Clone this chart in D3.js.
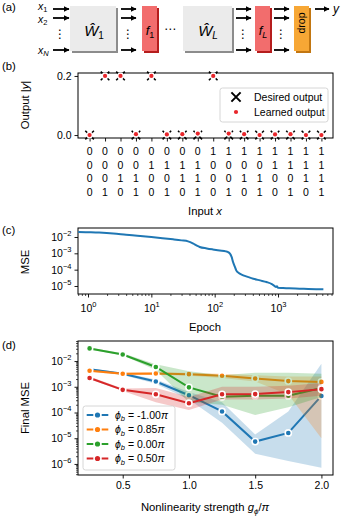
<!DOCTYPE html>
<html><head><meta charset="utf-8">
<script src="https://cdn.jsdelivr.net/npm/d3@7"></script>
<style>
body{margin:0;background:#fff}
svg{display:block}
text{font-family:"Liberation Sans",Arial,Helvetica,sans-serif;fill:#000}
</style>
</head><body>
<svg id="c" width="342" height="516"></svg>
<script>
// ---------------- DATA ----------------
// panel (b)
const bCategories = ["0000","0001","0010","0011","0100","0101","0110","0111","1000","1001","1010","1011","1100","1101","1110","1111"];
const bDesired = [0,0.2,0.2,0,0.2,0,0,0,0.2,0,0,0,0,0,0,0];
const bLearned = [0.000,0.200,0.200,0.003,0.200,0.002,0.003,0.005,0.200,0.005,0.003,0.000,0.002,0.003,0.000,0.000];
const bYTicks = [0.0, 0.2];
// panel (c)
const cEpoch = [0.7,1,1.5,2.5,4,6,10,15,22,30,38,46,52,58,75,93,120,150,165,174,185,195,207,219,240,282,340,407,520,660,800,880,933,960,1000,1200,1500,2190,3000,4000,5200];
const cMSE = [0.0204,0.0196,0.0186,0.0165,0.0138,0.0120,0.0100,0.0085,0.0072,0.0062,0.0054,0.0039,0.0030,0.00245,0.0020,0.00174,0.00150,0.00132,0.00115,0.00095,0.00060,0.000295,0.000160,9.1e-5,6.2e-5,4.5e-5,3.5e-5,2.8e-5,2.2e-5,1.74e-5,1.3e-5,1.0e-5,8.7e-6,9.5e-6,7.8e-6,7.6e-6,7.2e-6,6.9e-6,6.6e-6,6.4e-6,6.3e-6];
const cXTicks = [1,10,100,1000];
const cYTicks = [1e-2,1e-3,1e-4,1e-5];
// panel (d)
const dG = [0.25,0.5,0.75,1.0,1.25,1.5,1.75,2.0];
const dXTicks = [0.5,1.0,1.5,2.0];
const dYTicks = [1e-2,1e-3,1e-4,1e-5,1e-6];
const dLabels = ["-1.00","0.85","0.00","0.50"];
const dColors = ["#1f77b4","#ff7f0e","#2ca02c","#d62728"];
const dBlue   = [4.8e-3,3.2e-3,1.6e-3,4.7e-4,1.1e-4,7.4e-6,1.6e-5,4.4e-4];
const dBlueLo = [4.4e-3,2.9e-3,1.3e-3,3.2e-4,4.0e-5,2.5e-6,1.3e-6,7.1e-7];
const dBlueHi = [5.2e-3,3.5e-3,1.9e-3,6.3e-4,2.5e-4,1.4e-5,1.1e-4,7.9e-3];
const dOrange   = [4.2e-3,3.2e-3,3.3e-3,3.1e-3,2.7e-3,2.1e-3,1.66e-3,1.55e-3];
const dOrangeLo = [3.8e-3,2.9e-3,3.0e-3,2.7e-3,2.2e-3,1.6e-3,5.0e-4,1.0e-5];
const dOrangeHi = [4.6e-3,3.5e-3,3.7e-3,3.5e-3,3.2e-3,2.8e-3,2.5e-3,2.5e-3];
const dGreen   = [3.1e-2,1.8e-2,5.9e-3,9.5e-4,4.1e-4,4.5e-4,4.5e-4,8.9e-4];
const dGreenLo = [2.8e-2,1.7e-2,4.5e-3,2.5e-4,2.0e-4,8.0e-5,1.6e-4,4.0e-4];
const dGreenHi = [3.4e-2,2.0e-2,7.6e-3,4.0e-3,2.8e-3,3.5e-3,3.5e-3,3.2e-3];
const dRed   = [2.2e-3,7.6e-4,5.1e-4,2.3e-4,5.1e-4,5.2e-4,6.2e-4,8.1e-4];
const dRedLo = [2.0e-3,6.8e-4,2.5e-4,1.26e-4,3.2e-4,3.2e-4,3.5e-4,4.5e-4];
const dRedHi = [2.5e-3,8.5e-4,8.9e-4,4.0e-4,1.0e-3,1.0e-3,1.1e-3,1.4e-3];

// ---------------- SETUP ----------------
const svg = d3.select('#c');
svg.append('rect').attr('width',342).attr('height',516).attr('fill','#fff');
const L = 78, R = 333;
const TF = 10.5, LF = 11.3;

function panelLabel(t, y){
  svg.append('text').attr('x',2).attr('y',y).attr('font-size',LF).text(t);
}
function frame(top,bottom){
  svg.append('rect').attr('x',L).attr('y',top).attr('width',R-L).attr('height',bottom-top)
    .attr('fill','none').attr('stroke','#000').attr('stroke-width',1);
}
function styleAxis(g){
  g.select('.domain').remove();
  g.selectAll('line').attr('stroke','#000').attr('stroke-width',0.9);
  g.selectAll('text').attr('font-size',TF).attr('font-family','"Liberation Sans",Arial,sans-serif');
}
function pow10Label(sel){
  sel.each(function(d){
    const t = d3.select(this);
    const e = Math.round(Math.log10(d));
    t.text(null);
    t.append('tspan').text('10');
    t.append('tspan').attr('dy',-5).attr('font-size',7.5).text(e<0 ? '\u2212'+(-e) : String(e));
  });
}

// ---------------- PANEL (a) ----------------
panelLabel('(a)', 11);
const defs = svg.append('defs');
defs.append('marker').attr('id','ah').attr('viewBox','0 0 10 10').attr('refX',9).attr('refY',5)
  .attr('markerWidth',3.2).attr('markerHeight',3.2).attr('orient','auto').attr('markerUnits','strokeWidth')
  .append('path').attr('d','M0,0L10,5L0,10z').attr('fill','#000');

const arrowYs = [9,18,50];
function arrows(x0,x1,ys){
  ys.forEach(y=>{
    svg.append('line').attr('x1',x0).attr('x2',x1).attr('y1',y).attr('y2',y)
      .attr('stroke','#000').attr('stroke-width',1.8).attr('marker-end','url(#ah)');
  });
}
function vdots(x){
  svg.append('text').attr('x',x).attr('y',38).attr('text-anchor','middle')
    .attr('font-size',12).style('font-family','"DejaVu Sans",sans-serif').text('\u22EE');
}
function box(x,w,fill,shadow){
  svg.append('rect').attr('x',x+2).attr('y',8).attr('width',w).attr('height',45).attr('fill',shadow);
  svg.append('rect').attr('x',x).attr('y',6).attr('width',w).attr('height',45).attr('fill',fill);
}
// input labels
const inLab = [{s:'1',b:9.5},{s:'2',b:23},{s:'N',b:53.5}];
inLab.forEach(o=>{
  const t = svg.append('text').attr('x',38).attr('y',o.b).attr('font-size',10.5);
  t.append('tspan').attr('font-style','italic').text('x');
  t.append('tspan').attr('font-size',7.5).attr('dy',2).attr('font-style', o.s==='N'?'italic':'normal').text(o.s);
});
arrows(53,69,arrowYs); vdots(60);
box(70,46,'#ebebeb','#8c8c8c');
arrows(121,136,arrowYs); vdots(128);
box(142,15,'#f26d6d','#b51d1d');
svg.append('text').attr('x',170).attr('y',33).attr('text-anchor','middle').attr('font-size',12)
  .style('font-family','"DejaVu Sans",sans-serif').text('\u22EF');
box(183,49,'#ebebeb','#8c8c8c');
arrows(236,251,arrowYs); vdots(243);
box(255,15,'#f26d6d','#b51d1d');
arrows(274,289,arrowYs); vdots(281);
box(294,15,'#f7a735','#c27611');
arrows(315,329,[9]);
svg.append('text').attr('x',333).attr('y',13).attr('font-size',12).attr('font-style','italic').text('y');
// box texts
function wText(x,sub,subItalic){
  const t = svg.append('text').attr('x',x).attr('y',36).attr('text-anchor','middle').attr('font-size',15);
  t.append('tspan').attr('font-style','italic').text('\u0174');
  t.append('tspan').attr('font-size',10).attr('dy',3).attr('font-style',subItalic?'italic':'normal').text(sub);
}
wText(94,'1',false); wText(208,'L',true);
function fText(x,sub,subItalic){
  const t = svg.append('text').attr('x',x).attr('y',35).attr('text-anchor','middle').attr('font-size',13);
  t.append('tspan').attr('font-style','italic').text('f');
  t.append('tspan').attr('font-size',9).attr('dy',3).attr('font-style',subItalic?'italic':'normal').text(sub);
}
fText(150,'1',false); fText(263,'L',true);
svg.append('text').attr('transform','translate(305,23) rotate(-90)').attr('text-anchor','middle')
  .attr('font-size',10.5).text('drop');

// ---------------- PANEL (b) ----------------
panelLabel('(b)', 70);
const bTop=73, bBot=138;
const xb = d3.scaleLinear().domain([-0.75,15.75]).range([L,R]);
const yb = d3.scaleLinear().domain([-0.01,0.21]).range([bBot,bTop]);
const gyb = svg.append('g').attr('transform',`translate(${L},0)`)
  .call(d3.axisLeft(yb).tickValues(bYTicks).tickFormat(d3.format('.1f')).tickSize(3.5).tickPadding(3));
styleAxis(gyb);
const gxb = svg.append('g').attr('transform',`translate(0,${bBot})`)
  .call(d3.axisBottom(xb).tickValues(d3.range(bCategories.length)).tickFormat('').tickSize(3.5));
styleAxis(gxb);
[0,1,2,3].forEach(r=>{
  svg.append('g').selectAll('text').data(bCategories).join('text')
    .attr('x',(d,i)=>xb(i)).attr('y',155+r*13.6).attr('text-anchor','middle').attr('font-size',TF)
    .text(d=>d[r]);
});
frame(bTop,bBot);
const xPath = s=>`M${-s},${-s}L${s},${s}M${-s},${s}L${s},${-s}`;
svg.append('g').selectAll('path').data(bDesired).join('path')
  .attr('transform',(d,i)=>`translate(${xb(i)},${yb(d)})`).attr('d',xPath(4.3))
  .attr('stroke','#000').attr('stroke-width',1.6).attr('fill','none');
svg.append('g').selectAll('circle').data(bLearned).join('circle')
  .attr('cx',(d,i)=>xb(i)).attr('cy',d=>yb(d)).attr('r',2.1)
  .attr('fill','#e8262b').attr('stroke','#fff').attr('stroke-width',2.6);
svg.append('g').selectAll('circle').data(bLearned).join('circle')
  .attr('cx',(d,i)=>xb(i)).attr('cy',d=>yb(d)).attr('r',2.1).attr('fill','#e8262b');
// legend
svg.append('rect').attr('x',220).attr('y',88).attr('width',108).attr('height',34).attr('rx',2.5)
  .attr('fill','#fff').attr('fill-opacity',0.8).attr('stroke','#cccccc').attr('stroke-width',0.8);
svg.append('path').attr('transform','translate(236,97)').attr('d',xPath(4.6))
  .attr('stroke','#000').attr('stroke-width',2).attr('fill','none');
svg.append('circle').attr('cx',236).attr('cy',112).attr('r',2.1).attr('fill','#e8262b');
svg.append('text').attr('x',254).attr('y',100.7).attr('font-size',TF).text('Desired output');
svg.append('text').attr('x',254).attr('y',115.7).attr('font-size',TF).text('Learned output');
// labels
{
  const t = svg.append('text').attr('transform','translate(29,105) rotate(-90)').attr('text-anchor','middle').attr('font-size',LF);
  t.append('tspan').text('Output |');
  t.append('tspan').attr('font-style','italic').text('y');
  t.append('tspan').text('|');
  const u = svg.append('text').attr('x',205).attr('y',215).attr('text-anchor','middle').attr('font-size',LF);
  u.append('tspan').text('Input ');
  u.append('tspan').attr('font-style','italic').text('x');
}

// ---------------- PANEL (c) ----------------
panelLabel('(c)', 234);
const cTop=228, cBot=294;
const xc = d3.scaleLog().domain([Math.pow(10,-0.158),Math.pow(10,3.868)]).range([L,R]);
const yc = d3.scaleLog().domain([Math.pow(10,-5.49),Math.pow(10,-1.45)]).range([cBot,cTop]);
const gyc = svg.append('g').attr('transform',`translate(${L},0)`)
  .call(d3.axisLeft(yc).tickValues(cYTicks).tickSize(3.5).tickPadding(3));
styleAxis(gyc); gyc.selectAll('text').call(pow10Label);
const cMinor = xc.ticks().filter(v=>Math.abs(Math.log10(v)-Math.round(Math.log10(v)))>1e-6);
const gxcm = svg.append('g').attr('transform',`translate(0,${cBot})`)
  .call(d3.axisBottom(xc).tickValues(cMinor).tickFormat('').tickSize(2));
styleAxis(gxcm); gxcm.selectAll('line').attr('stroke-width',0.7);
const gxc = svg.append('g').attr('transform',`translate(0,${cBot})`)
  .call(d3.axisBottom(xc).tickValues(cXTicks).tickSize(3.5).tickPadding(3));
styleAxis(gxc); gxc.selectAll('text').call(pow10Label);
gxc.selectAll('text').attr('dy','1.1em');
frame(cTop,cBot);
const cLine = d3.line().x((d,i)=>xc(cEpoch[i])).y(d=>yc(d)).curve(d3.curveMonotoneX);
svg.append('path').attr('d',cLine(cMSE)).attr('fill','none').attr('stroke','#1f77b4').attr('stroke-width',2);
svg.append('text').attr('transform','translate(29,262) rotate(-90)').attr('text-anchor','middle').attr('font-size',LF).text('MSE');
svg.append('text').attr('x',205).attr('y',331).attr('text-anchor','middle').attr('font-size',LF).text('Epoch');

// ---------------- PANEL (d) ----------------
panelLabel('(d)', 349);
const dTop=341, dBot=475;
const xd = d3.scaleLinear().domain([0.1625,2.0875]).range([L,R]);
const yd = d3.scaleLog().domain([Math.pow(10,-6.43),Math.pow(10,-1.22)]).range([dBot,dTop]);
const dMinor = yd.ticks().filter(v=>Math.abs(Math.log10(v)-Math.round(Math.log10(v)))>1e-6);
const gydm = svg.append('g').attr('transform',`translate(${L},0)`)
  .call(d3.axisLeft(yd).tickValues(dMinor).tickFormat('').tickSize(2));
styleAxis(gydm); gydm.selectAll('line').attr('stroke-width',0.7);
const gyd = svg.append('g').attr('transform',`translate(${L},0)`)
  .call(d3.axisLeft(yd).tickValues(dYTicks).tickSize(3.5).tickPadding(3));
styleAxis(gyd); gyd.selectAll('text').call(pow10Label);
const gxd = svg.append('g').attr('transform',`translate(0,${dBot})`)
  .call(d3.axisBottom(xd).tickValues(dXTicks).tickFormat(d3.format('.1f')).tickSize(3.5).tickPadding(3));
styleAxis(gxd);

const dSeries = [
  {v:dBlue, lo:dBlueLo, hi:dBlueHi},
  {v:dOrange, lo:dOrangeLo, hi:dOrangeHi},
  {v:dGreen, lo:dGreenLo, hi:dGreenHi},
  {v:dRed, lo:dRedLo, hi:dRedHi}
];
const plotG = svg.append('g');
dSeries.forEach((s,k)=>{
  const area = d3.area().x((d,i)=>xd(dG[i])).y0((d,i)=>yd(s.lo[i])).y1((d,i)=>yd(s.hi[i]));
  plotG.append('path').attr('d',area(s.v)).attr('fill',dColors[k]).attr('fill-opacity',0.25).attr('stroke','none');
  const line = d3.line().x((d,i)=>xd(dG[i])).y(d=>yd(d));
  plotG.append('path').attr('d',line(s.v)).attr('fill','none').attr('stroke',dColors[k]).attr('stroke-width',2);
  plotG.append('g').selectAll('circle').data(s.v).join('circle')
    .attr('cx',(d,i)=>xd(dG[i])).attr('cy',d=>yd(d)).attr('r',3.1)
    .attr('fill',dColors[k]).attr('stroke','#fff').attr('stroke-width',1.6);
});
frame(dTop,dBot);
// legend
svg.append('rect').attr('x',83).attr('y',406).attr('width',92).attr('height',64).attr('rx',2.5)
  .attr('fill','#fff').attr('fill-opacity',0.8).attr('stroke','#cccccc').attr('stroke-width',0.8);
dLabels.forEach((lab,k)=>{
  const y = 415 + k*14.5;
  svg.append('line').attr('x1',86.7).attr('x2',108.3).attr('y1',y).attr('y2',y)
    .attr('stroke',dColors[k]).attr('stroke-width',2).attr('stroke-dasharray','6.6,8.4');
  svg.append('circle').attr('cx',97.5).attr('cy',y).attr('r',2.6).attr('fill',dColors[k]);
  const t = svg.append('text').attr('x',115).attr('y',y+3.7).attr('font-size',TF);
  t.append('tspan').attr('font-style','italic').text('\u03D5');
  t.append('tspan').attr('font-style','italic').attr('font-size',7.5).attr('dy',2.5).text('b');
  t.append('tspan').attr('dy',-2.5).text(' = '+lab);
  t.append('tspan').attr('font-style','italic').text('\u03C0');
});
svg.append('text').attr('transform','translate(29,408) rotate(-90)').attr('text-anchor','middle').attr('font-size',LF).text('Final MSE');
{
  const t = svg.append('text').attr('x',205).attr('y',511).attr('text-anchor','middle').attr('font-size',LF);
  t.append('tspan').text('Nonlinearity strength ');
  t.append('tspan').attr('font-style','italic').text('g');
  t.append('tspan').attr('font-style','italic').attr('font-size',8).attr('dy',2.5).text('\u03D5');
  t.append('tspan').attr('dy',-2.5).text('/');
  t.append('tspan').attr('font-style','italic').text('\u03C0');
}
</script>
</body></html>
